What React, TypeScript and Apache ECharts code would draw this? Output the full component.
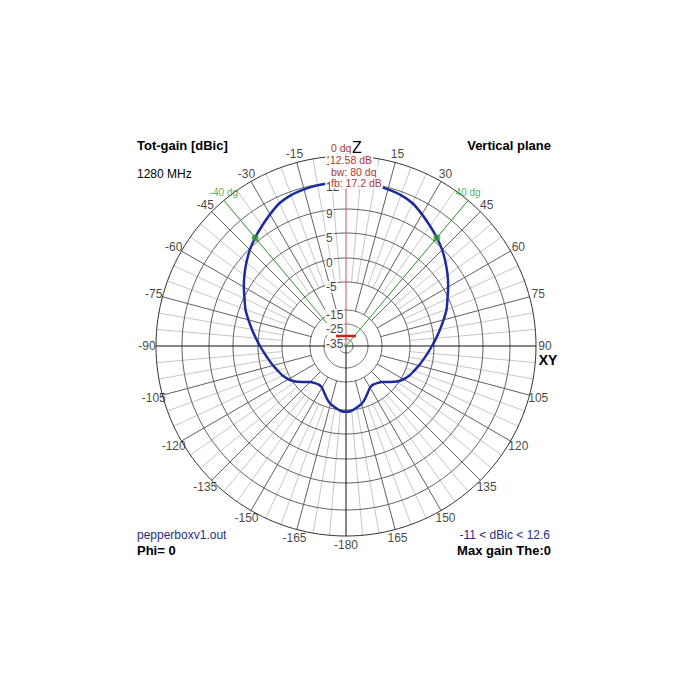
import React, { useEffect, useRef } from "react";
import * as echarts from "echarts";

// ---- data ----
const ANGLE_DEG = [
  0, 5, 10, 15, 20, 25, 30, 35, 40, 45, 50, 55, 60, 65, 70, 75, 80, 85, 90,
  95, 100, 105, 110, 115, 120, 125, 130, 135, 140, 145, 150, 155, 160, 165, 170, 175, 180,
  185, 190, 195, 200, 205, 210, 215, 220, 225, 230, 235, 240, 245, 250, 255, 260, 265, 270,
  275, 280, 285, 290, 295, 300, 305, 310, 315, 320, 325, 330, 335, 340, 345, 350, 355, 360,
];
const GAIN_DBIC = [
  12.58, 12.55, 12.48, 12.35, 12.15, 11.73, 11.0, 10.27, 9.58, 8.83, 7.83, 6.83, 5.83, 4.8, 3.8, 2.6, 1.5, 0.5, -0.42,
  -1.25, -1.98, -2.6, -3.23, -3.75, -4.48, -5.71, -7.86, -9.64, -10.54, -11.0, -10.71, -9.46, -7.86, -6.43, -5.54, -4.8, -4.62,
  -4.8, -5.54, -6.43, -7.86, -9.46, -10.71, -11.0, -10.54, -9.64, -7.86, -5.71, -4.48, -3.75, -3.23, -2.6, -1.98, -1.25, -0.42,
  0.5, 1.5, 2.6, 3.8, 4.8, 5.83, 6.83, 7.83, 8.83, 9.58, 10.27, 11.0, 11.73, 12.15, 12.35, 12.48, 12.55, 12.58,
];
const RING_DB = [-35, -25, -15, -5, 0, 5, 9, 12.6, 15];
const RING_TEXT = ["-35", "-25", "-15", "-5", "0", "5", "9", "12", "15"];
// radial scale breakpoints (plot radius units) matching RING_DB
const SCALE_R = [7, 22, 36, 64, 88, 113, 137, 164, 190];
const ANGLE_TICKS = [15, 30, 45, 60, 75, 90, 105, 120, 135, 150, 165, 180, 195, 210, 225, 240, 255, 270, 285, 300, 315, 330, 345];
const BEAM_ANGLES = [40, 320];
const BEAM_TEXT = ["40 dg", "-40 dg"];
const MAX_GAIN = 12.58;
const MIN_GAIN = -11;
const BEAMWIDTH = 80;
const FRONT_BACK = 17.2;
const FREQ_MHZ = 1280;

const FONT = '"Liberation Sans", Arial, sans-serif';

function toR(db: number): number {
  if (db <= RING_DB[0]) return SCALE_R[0];
  for (let i = 1; i < RING_DB.length; i++) {
    if (db <= RING_DB[i]) {
      const t = (db - RING_DB[i - 1]) / (RING_DB[i] - RING_DB[i - 1]);
      return SCALE_R[i - 1] + t * (SCALE_R[i] - SCALE_R[i - 1]);
    }
  }
  return SCALE_R[SCALE_R.length - 1];
}

function angleText(a: number): string {
  if (a < 180) return String(a);
  if (a === 180) return "-180";
  return String(a - 360);
}

export default function App() {
  const ref = useRef<HTMLDivElement>(null);
  useEffect(() => {
    if (!ref.current) return;
    const chart = echarts.init(ref.current, undefined, { renderer: "svg" });
    const outer = toR(RING_DB[RING_DB.length - 1]);
    const series: any[] = [];
    const lineBase = { type: "line", coordinateSystem: "polar", symbol: "none", silent: true, animation: false, clip: false };

    // rings
    const fine: number[] = [];
    for (let a = 0; a <= 360; a += 2) fine.push(a);
    RING_DB.forEach((db, i) => {
      const r = toR(db);
      series.push({
        ...lineBase,
        data: fine.map((a) => [r, a]),
        lineStyle: { color: i === RING_DB.length - 1 ? "#333333" : "#606060", width: 1 },
      });
    });
    // spokes
    for (let a = 5; a < 360; a += 5) {
      if (a % 90 === 0) continue;
      const major = a % 15 === 0;
      series.push({
        ...lineBase,
        data: [[toR(major ? -15 : -5), a], [outer, a]],
        lineStyle: { color: major ? "#606060" : "#c6c6c6", width: 1 },
        z: major ? 2 : 1,
      });
    }
    // main axes
    series.push({ ...lineBase, data: [[outer, 90], [outer, 270]], lineStyle: { color: "#111", width: 1 } });
    series.push({ ...lineBase, data: [[0, 0], [outer, 180]], lineStyle: { color: "#111", width: 1 } });
    series.push({ ...lineBase, data: [[0, 0], [outer + 6, 0]], lineStyle: { color: "#d05555", width: 1 } });
    // beam-width lines
    BEAM_ANGLES.forEach((a) => {
      series.push({ ...lineBase, data: [[0, a], [outer, a]], lineStyle: { color: "#35a035", width: 1 } });
    });
    // pattern
    series.push({
      ...lineBase,
      data: ANGLE_DEG.map((a, i) => [toR(GAIN_DBIC[i]), a]),
      lineStyle: { color: "#1e2b9e", width: 2.5 },
      smooth: 0.2,
      z: 5,
    });
    // -3 dB points
    series.push({
      type: "scatter",
      coordinateSystem: "polar",
      silent: true,
      symbolSize: 7,
      itemStyle: { color: "#2a9a2a" },
      data: BEAM_ANGLES.map((a) => [toR(MAX_GAIN - 3), a]),
      z: 6,
    });
    const labelBase = {
      type: "scatter",
      coordinateSystem: "polar",
      silent: true,
      symbol: "circle",
      symbolSize: 0.1,
      itemStyle: { color: "rgba(0,0,0,0)" },
      z: 8,
    };
    // beam labels
    series.push({
      ...labelBase,
      data: BEAM_ANGLES.map((a) => [outer, a]),
      label: {
        show: true,
        position: "top",
        distance: 3,
        formatter: (p: any) => BEAM_TEXT[p.dataIndex],
        color: "#2a9a2a",
        fontSize: 10,
        fontFamily: FONT,
      },
    });
    // angle labels
    series.push({
      ...labelBase,
      data: ANGLE_TICKS.map((a) => [199, a]),
      label: {
        show: true,
        position: "inside",
        formatter: (p: any) => angleText(ANGLE_TICKS[p.dataIndex]),
        color: "#111",
        fontSize: 12,
        fontFamily: FONT,
      },
    });
    // ring labels
    series.push({
      ...labelBase,
      data: RING_DB.map((db) => [toR(db), 0]),
      label: {
        show: true,
        position: "inside",
        align: "left",
        offset: [-21, 5],
        formatter: (p: any) => RING_TEXT[p.dataIndex],
        color: "#111",
        fontSize: 12,
        fontFamily: FONT,
        backgroundColor: "#fff",
        padding: [0, 1],
      },
      z: 9,
    });

    const txt = (text: string, x: number, y: number, font: string, fill = "#000", align = "left", extra: any = {}) => ({
      type: "text",
      x,
      y,
      z: 100,
      silent: true,
      style: { text, font, fill, textAlign: align, textVerticalAlign: "middle", ...extra },
    });
    const redBg = { backgroundColor: "#fff", padding: [0, 1] };
    const red = "#b53333";

    chart.setOption({
      animation: false,
      backgroundColor: "#fff",
      polar: { center: [346, 346], radius: 210 },
      angleAxis: {
        type: "value",
        min: 0,
        max: 360,
        interval: 15,
        startAngle: 90,
        clockwise: true,
        axisLine: { show: false },
        axisTick: { show: false },
        axisLabel: { show: false },
        splitLine: { show: false },
      },
      radiusAxis: {
        type: "value",
        min: 0,
        max: 210,
        axisLine: { show: false },
        axisTick: { show: false },
        axisLabel: { show: false },
        splitLine: { show: false },
      },
      series,
      graphic: [
        txt("Tot-gain [dBic]", 137, 145, `bold 13px ${FONT}`),
        txt("Vertical plane", 551, 145, `bold 13px ${FONT}`, "#000", "right"),
        txt(`${FREQ_MHZ} MHz`, 137, 174, `12px ${FONT}`),
        txt("pepperboxv1.out", 137, 535, `12px ${FONT}`, "#2b2b8a"),
        txt("Phi= 0", 137, 550, `bold 13px ${FONT}`),
        txt(`${MIN_GAIN} < dBic < ${Math.round(MAX_GAIN * 10) / 10}`, 550, 535, `12px ${FONT}`, "#2b2b8a", "right"),
        txt("Max gain The:0", 551, 550, `bold 13px ${FONT}`, "#000", "right"),
        txt("Z", 357, 147, `16px ${FONT}`, "#000", "center"),
        txt("XY", 548, 360, `bold 14px ${FONT}`, "#000", "center"),
        txt("0 dq", 330, 148, `10.5px ${FONT}`, red, "left", redBg),
        txt(`${MAX_GAIN} dB`, 329, 160, `10.5px ${FONT}`, red, "left", redBg),
        txt(`bw: ${BEAMWIDTH} dq`, 330, 171.5, `10.5px ${FONT}`, red, "left", redBg),
        txt(`fb: ${FRONT_BACK} dB`, 330, 183, `10.5px ${FONT}`, red, "left", redBg),
        {
          type: "line",
          z: 100,
          silent: true,
          shape: { x1: 336, y1: 336, x2: 356, y2: 336 },
          style: { stroke: "#cc2020", lineWidth: 2.5 },
        },
      ],
    });
    return () => chart.dispose();
  }, []);
  return (
    <div
      ref={ref}
      style={{ position: "fixed", left: 0, top: 0, width: 700, height: 700, background: "#fff" }}
    />
  );
}
